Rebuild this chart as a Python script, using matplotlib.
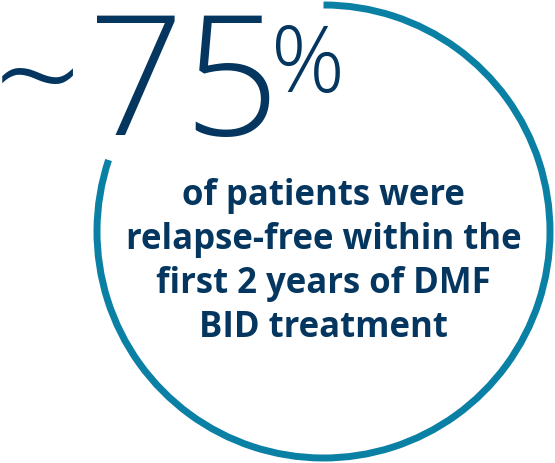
import matplotlib
matplotlib.use("Agg")
import matplotlib.pyplot as plt
from matplotlib.patches import Arc

# ---- data ----
stat_prefix = "~"
stat_value = 75
stat_unit = "%"
caption_lines = ["of patients were", "relapse-free within the",
                 "first 2 years of DMF", "BID treatment"]
arc_start_deg = 161.6   # end of the gap (lower-left)
arc_end_deg = 90.0      # top

NAVY = "#04365f"
TEAL = "#0a80a5"

W, H = 555, 463
fig = plt.figure(figsize=(W / 100, H / 100), dpi=100)
ax = fig.add_axes([0, 0, 1, 1])
ax.set_xlim(0, W)
ax.set_ylim(0, H)
ax.axis("off")

cx, cy, r = 323.5, 231.5, 226.5
arc = Arc((cx, cy), 2 * r, 2 * r, theta1=arc_start_deg, theta2=arc_end_deg,
          color=TEAL, lw=5.0, capstyle="butt")
ax.add_patch(arc)

big = dict(family=["Open Sans", "DejaVu Sans"], weight="light", color=NAVY)
ax.text(-6, H - 130, stat_prefix, fontsize=110, ha="left", va="baseline", **big)
ax.text(88, H - 135, str(stat_value), fontsize=121, ha="left", va="baseline", **big)
ax.text(271, H - 92, stat_unit, fontsize=66, ha="left", va="baseline", **big)

baselines = [205, 249, 293, 337]
for line, b in zip(caption_lines, baselines):
    ax.text(cx, H - b, line, fontsize=25, ha="center", va="baseline",
            family=["Open Sans", "DejaVu Sans"], weight="bold", color=NAVY)

fig.savefig("out.png", dpi=100)
